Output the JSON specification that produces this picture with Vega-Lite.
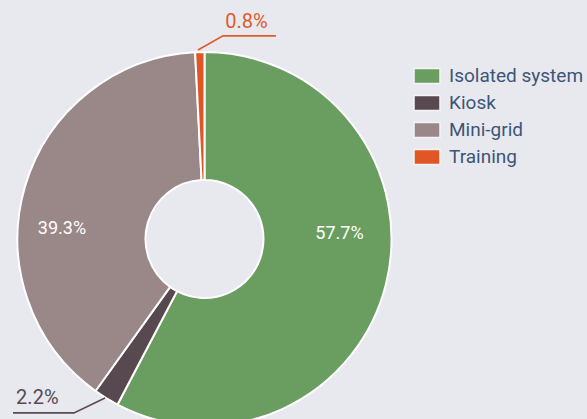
{
  "$schema": "https://vega.github.io/schema/vega-lite/v6.json",
  "width": 409,
  "height": 478,
  "autosize": {"type": "none"},
  "padding": {"left": 0, "top": 0, "right": 178, "bottom": 0},
  "background": "#e8e9ef",
  "config": {"view": {"stroke": null}, "font": "Roboto"},
  "datasets": {
    "shares": [
      {"category": "Isolated system", "share": 57.7},
      {"category": "Kiosk", "share": 2.2},
      {"category": "Mini-grid", "share": 39.3},
      {"category": "Training", "share": 0.8}
    ],
    "labels": [
      {"category": "Isolated system", "label": "57.7%", "inside": true, "x": 0.722, "y": 0.027},
      {"category": "Mini-grid", "label": "39.3%", "inside": true, "x": -0.762, "y": 0.053},
      {"category": "Training", "label": "0.8%", "inside": false, "x": 0.224, "y": 1.16},
      {"category": "Kiosk", "label": "2.2%", "inside": false, "x": -0.894, "y": -0.85}
    ],
    "leaders": [
      {"category": "Training", "seq": 1, "x": -0.035, "y": 1.011},
      {"category": "Training", "seq": 2, "x": 0.099, "y": 1.086},
      {"category": "Training", "seq": 3, "x": 0.382, "y": 1.086},
      {"category": "Kiosk", "seq": 1, "x": -0.532, "y": -0.85},
      {"category": "Kiosk", "seq": 2, "x": -0.698, "y": -0.93},
      {"category": "Kiosk", "seq": 3, "x": -1.024, "y": -0.93}
    ]
  },
  "layer": [
    {
      "data": {"name": "shares"},
      "mark": {"type": "arc", "outerRadius": 187, "innerRadius": 59, "stroke": "#ffffff", "strokeWidth": 2},
      "encoding": {
        "theta": {"field": "share", "type": "quantitative", "stack": true},
        "color": {
          "field": "category",
          "type": "nominal",
          "scale": {
            "domain": ["Isolated system", "Kiosk", "Mini-grid", "Training"],
            "range": ["#6a9e60", "#584950", "#9a8787", "#e05624"]
          },
          "legend": {
            "orient": "none",
            "legendX": 413,
            "legendY": 62,
            "title": null,
            "padding": 0,
            "symbolType": "M-1,-0.577L1,-0.577L1,0.577L-1,0.577Z",
            "symbolSize": 676,
            "symbolStrokeColor": "#f4f4f6",
            "symbolStrokeWidth": 1.5,
            "symbolOpacity": 1,
            "labelFont": "Roboto",
            "labelFontSize": 19,
            "labelColor": "#3c5578",
            "labelOffset": 8,
            "rowPadding": 2
          }
        }
      }
    },
    {
      "data": {"name": "leaders"},
      "mark": {"type": "line", "strokeWidth": 1.6},
      "encoding": {
        "x": {"field": "x", "type": "quantitative", "scale": {"domain": [-1.0936, 1.0936], "nice": false, "zero": false}, "axis": null},
        "y": {"field": "y", "type": "quantitative", "scale": {"domain": [-1.2781, 1.2781], "nice": false, "zero": false}, "axis": null},
        "order": {"field": "seq"},
        "color": {
          "field": "category",
          "type": "nominal",
          "scale": {
            "domain": ["Isolated system", "Kiosk", "Mini-grid", "Training"],
            "range": ["#6a9e60", "#5a4a52", "#9a8787", "#e05a2a"]
          },
          "legend": null
        }
      }
    },
    {
      "data": {"name": "labels"},
      "transform": [{"filter": "datum.inside"}],
      "mark": {"type": "text", "font": "Roboto", "fontSize": 18, "baseline": "middle", "align": "center", "color": "#ffffff"},
      "encoding": {
        "x": {"field": "x", "type": "quantitative"},
        "y": {"field": "y", "type": "quantitative"},
        "text": {"field": "label"}
      }
    },
    {
      "data": {"name": "labels"},
      "transform": [{"filter": "!datum.inside"}],
      "mark": {"type": "text", "font": "Roboto", "fontSize": 20, "baseline": "middle", "align": "center"},
      "encoding": {
        "x": {"field": "x", "type": "quantitative"},
        "y": {"field": "y", "type": "quantitative"},
        "text": {"field": "label"},
        "color": {
          "field": "category",
          "type": "nominal",
          "scale": {
            "domain": ["Isolated system", "Kiosk", "Mini-grid", "Training"],
            "range": ["#6a9e60", "#5a4a52", "#9a8787", "#e05a2a"]
          },
          "legend": null
        }
      }
    }
  ],
  "resolve": {"scale": {"color": "independent"}, "legend": {"color": "independent"}}
}
